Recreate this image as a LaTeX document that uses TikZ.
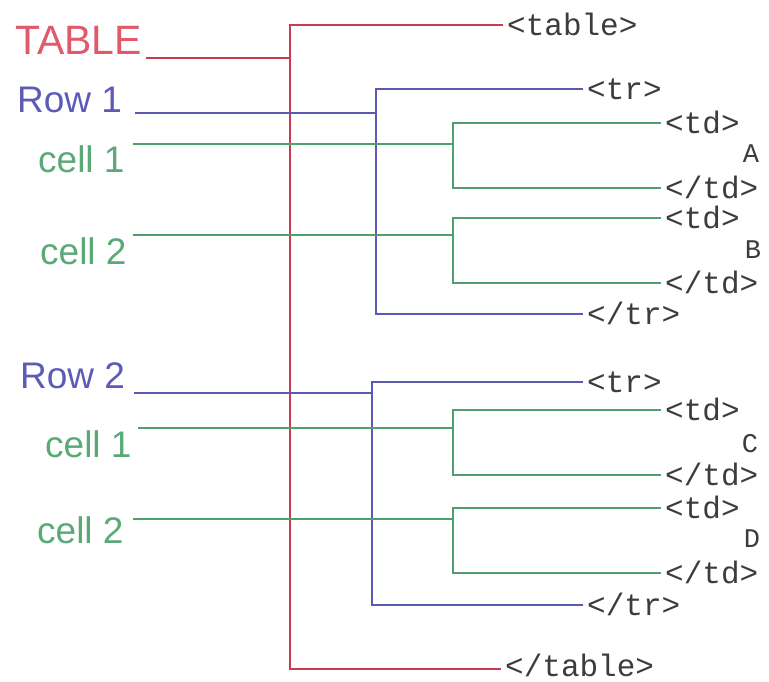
\documentclass[tikz,border=0pt]{standalone}
\usepackage{fontspec}
\setmainfont{Liberation Sans}
\setmonofont{Liberation Mono}
\definecolor{rline}{HTML}{C83C50}
\definecolor{bline}{HTML}{5A5AB4}
\definecolor{gline}{HTML}{4EA06C}
\definecolor{rtext}{HTML}{E05A6A}
\definecolor{btext}{HTML}{5C5CB8}
\definecolor{gtext}{HTML}{5AAA78}
\definecolor{tagtext}{HTML}{3C3C3C}
\begin{document}
\begin{tikzpicture}[x=1pt,y=-1pt,
  lab/.style={anchor=base west,inner sep=0pt,font=\fontsize{37}{40}\selectfont},
  tag/.style={anchor=west,inner xsep=4pt,inner ysep=0pt,text height=20pt,text depth=0pt,
    font=\ttfamily\fontsize{31}{34}\selectfont,text=tagtext},
  letter/.style={anchor=base,inner sep=0pt,font=\ttfamily\fontsize{27}{30}\selectfont,text=tagtext},
  rl/.style={draw=rline,line width=1.5pt},
  bl/.style={draw=bline,line width=1.5pt},
  gl/.style={draw=gline,line width=1.5pt}]
\useasboundingbox (0,0) rectangle (769,681);
\fill[white] (0,0) rectangle (769,681);

% left labels
\node[lab,text=rtext,font=\fontsize{41}{44}\selectfont] (TBL) at (15,54) {TABLE};
\node[lab,text=btext] (R1) at (17,112) {Row 1};
\node[lab,text=gtext] (C11) at (38,172) {cell 1};
\node[lab,text=gtext] (C12) at (40,264) {cell 2};
\node[lab,text=btext] (R2) at (20,388) {Row 2};
\node[lab,text=gtext] (C21) at (45,457) {cell 1};
\node[lab,text=gtext] (C22) at (37,543) {cell 2};

% tags
\node[tag] (tTable) at (503,25) {<table>};
\node[tag,text height=14pt] (tEndTable) at (501,669) {</table>};
\node[tag] (tTr1) at (583,89) {<tr>};
\node[tag] (tEndTr1) at (583,314) {</tr>};
\node[tag] (tTdA) at (661,123) {<td>};
\node[tag] (tEndTdA) at (661,188) {</td>};
\node[tag] (tTdB) at (661,218) {<td>};
\node[tag] (tEndTdB) at (661,283) {</td>};
\node[tag] (tTr2) at (583,382) {<tr>};
\node[tag] (tEndTr2) at (583,605) {</tr>};
\node[tag] (tTdC) at (661,410) {<td>};
\node[tag] (tEndTdC) at (661,475) {</td>};
\node[tag] (tTdD) at (661,508) {<td>};
\node[tag] (tEndTdD) at (661,573) {</td>};

% cell contents
\node[letter] (lA) at (751,162) {A};
\node[letter] (lB) at (753,258) {B};
\node[letter] (lC) at (750,452) {C};
\node[letter] (lD) at (752,547) {D};

% start and junction coordinates
\coordinate (sT) at (146,58);   \coordinate (jT) at (290,58);
\coordinate (sR1) at (135,113); \coordinate (jR1) at (376,113);
\coordinate (sC11) at (133,144); \coordinate (jC11) at (453,144);
\coordinate (sC12) at (133,235); \coordinate (jC12) at (453,235);
\coordinate (sR2) at (134,393); \coordinate (jR2) at (372,393);
\coordinate (sC21) at (138,428); \coordinate (jC21) at (453,428);
\coordinate (sC22) at (133,519); \coordinate (jC22) at (453,519);

% table tree
\draw[rl] (sT) -- (jT);
\draw[rl] (tTable.west) -| (jT) |- (tEndTable.west);

% rows
\draw[bl] (sR1) -- (jR1);
\draw[bl] (tTr1.west) -| (jR1) |- (tEndTr1.west);
\draw[bl] (sR2) -- (jR2);
\draw[bl] (tTr2.west) -| (jR2) |- (tEndTr2.west);

% cells
\draw[gl] (sC11) -- (jC11);
\draw[gl] (tTdA.west) -| (jC11) |- (tEndTdA.west);
\draw[gl] (sC12) -- (jC12);
\draw[gl] (tTdB.west) -| (jC12) |- (tEndTdB.west);
\draw[gl] (sC21) -- (jC21);
\draw[gl] (tTdC.west) -| (jC21) |- (tEndTdC.west);
\draw[gl] (sC22) -- (jC22);
\draw[gl] (tTdD.west) -| (jC22) |- (tEndTdD.west);
\end{tikzpicture}
\end{document}
